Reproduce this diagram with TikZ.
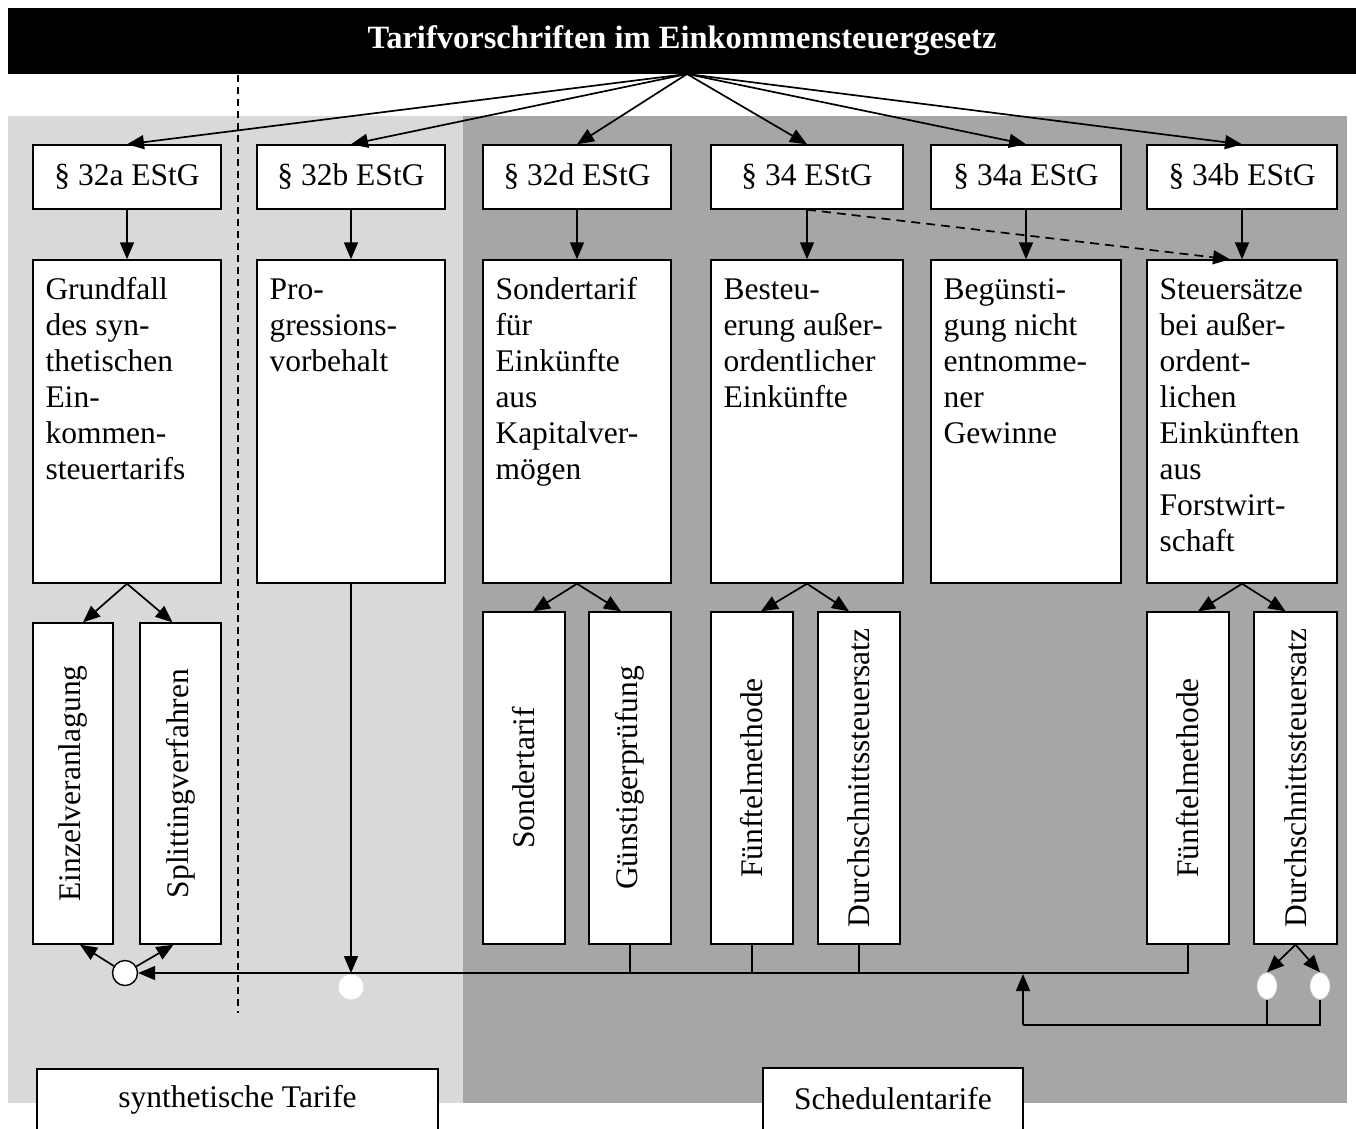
\documentclass[tikz,border=0pt]{standalone}
\usepackage{fontspec}
\setmainfont{Liberation Serif}
\usetikzlibrary{arrows.meta,calc,shapes.geometric}
\definecolor{lightbg}{HTML}{D9D9D9}
\definecolor{darkbg}{HTML}{A6A6A6}
\begin{document}
\begin{tikzpicture}[x=1pt,y=-1pt,
  box/.style={draw=black, fill=white, line width=1.4pt, inner sep=0pt,
    font=\fontsize{31.5}{36}\selectfont},
  rowone/.style={box, minimum height=64pt},
  rowtwo/.style={box, minimum height=323pt},
  txt/.style={anchor=north west, align=left, inner sep=0pt,
    font=\fontsize{31.5}{36}\selectfont},
  vtxt/.style={rotate=90, inner sep=0pt, font=\fontsize{31.5}{36}\selectfont},
  arr/.style={-{Triangle[length=17pt,width=14pt]}, line width=1.7pt},
  conn/.style={line width=1.7pt},
]
\clip (0,0) rectangle (1356,1128);
\useasboundingbox (0,0) rectangle (1356,1128);
\fill[white] (0,0) rectangle (1356,1128);

% backgrounds
\fill[lightbg] (8,116) rectangle (463,1103);
\fill[darkbg] (463,116) rectangle (1347,1103);

% title
\node[fill=black, text=white, minimum width=1348pt, minimum height=66pt, inner sep=0pt,
  font=\fontsize{32.5}{36}\selectfont\bfseries] (title) at (682,41)
  {Tarifvorschriften im Einkommensteuergesetz};
\coordinate (src) at (687,74);

% dashed separator
\draw[line width=1.4pt, dash pattern=on 7pt off 5pt] (238,75) -- (238,1013);

% row 1
\node[rowone, minimum width=188pt] (p32a) at (127,177) {§ 32a EStG};
\node[rowone, minimum width=188pt] (p32b) at (351,177) {§ 32b EStG};
\node[rowone, minimum width=188pt] (p32d) at (577,177) {§ 32d EStG};
\node[rowone, minimum width=192pt] (p34) at (807,177) {§ 34 EStG};
\node[rowone, minimum width=190pt] (p34a) at (1026,177) {§ 34a EStG};
\node[rowone, minimum width=190pt] (p34b) at (1242,177) {§ 34b EStG};

% row 2
\node[rowtwo, minimum width=188pt] (g32a) at (127,421.5) {};
\node[rowtwo, minimum width=188pt] (g32b) at (351,421.5) {};
\node[rowtwo, minimum width=188pt] (g32d) at (577,421.5) {};
\node[rowtwo, minimum width=192pt] (g34) at (807,421.5) {};
\node[rowtwo, minimum width=190pt] (g34a) at (1026,421.5) {};
\node[rowtwo, minimum width=190pt] (g34b) at (1242,421.5) {};

\node[txt] (t32a) at ($(g32a.north west)+(13,15)$)
  {\strut Grundfall\\des syn-\\thetischen\\Ein-\\kommen-\\steuertarifs};
\node[txt] (t32b) at ($(g32b.north west)+(13,15)$)
  {\strut Pro-\\gressions-\\vorbehalt};
\node[txt] (t32d) at ($(g32d.north west)+(13,15)$)
  {\strut Sondertarif\\für\\Einkünfte\\aus\\Kapitalver-\\mögen};
\node[txt] (t34) at ($(g34.north west)+(13,15)$)
  {\strut Besteu-\\erung außer-\\ordentlicher\\Einkünfte};
\node[txt] (t34a) at ($(g34a.north west)+(13,15)$)
  {\strut Begünsti-\\gung nicht\\entnomme-\\ner\\Gewinne};
\node[txt] (t34b) at ($(g34b.north west)+(13,15)$)
  {\strut Steuersätze\\bei außer-\\ordent-\\lichen\\Einkünften\\aus\\Forstwirt-\\schaft};

% row 3
\node[box, minimum width=80pt, minimum height=321pt] (einzel) at (73,783.5) {};
\node[vtxt] at (einzel.center) {Einzelveranlagung};
\node[box, minimum width=81pt, minimum height=321pt] (split) at (180.5,783.5) {};
\node[vtxt] at (split.center) {Splittingverfahren};
\node[box, minimum width=82pt, minimum height=332pt] (sonder) at (524,778) {};
\node[vtxt] at (sonder.center) {Sondertarif};
\node[box, minimum width=82pt, minimum height=332pt] (guenst) at (630,778) {};
\node[vtxt] at (guenst.center) {Günstigerprüfung};
\node[box, minimum width=82pt, minimum height=332pt] (fuenfA) at (752,778) {};
\node[vtxt] at (fuenfA.center) {Fünftelmethode};
\node[box, minimum width=82pt, minimum height=332pt] (durchA) at (859,778) {};
\node[vtxt] at (durchA.center) {Durchschnittssteuersatz};
\node[box, minimum width=82pt, minimum height=332pt] (fuenfB) at (1188,778) {};
\node[vtxt] at (fuenfB.center) {Fünftelmethode};
\node[box, minimum width=83pt, minimum height=332pt] (durchB) at (1295.5,778) {};
\node[vtxt] at (durchB.center) {Durchschnittssteuersatz};

% title arrows
\foreach \n in {p32a,p32b,p32d,p34,p34a,p34b}
  \draw[arr] (src) -- (\n.north);
% down arrows
\draw[arr] (p32a.south) -- (g32a.north);
\draw[arr] (p32b.south) -- (g32b.north);
\draw[arr] (p32d.south) -- (g32d.north);
\draw[arr] (p34.south) -- (g34.north);
\draw[arr] (p34a.south) -- (g34a.north);
\draw[arr] (p34b.south) -- (g34b.north);
\draw[arr, dash pattern=on 9pt off 6pt] (p34.south) -- ([xshift=-12pt]g34b.north);

% splits
\draw[arr] (g32a.south) -- ([xshift=10pt]einzel.north);
\draw[arr] (g32a.south) -- ([xshift=-8pt]split.north);
\draw[arr] (g32d.south) -- ([xshift=9pt]sonder.north);
\draw[arr] (g32d.south) -- ([xshift=-9pt]guenst.north);
\draw[arr] (g34.south) -- ([xshift=9pt]fuenfA.north);
\draw[arr] (g34.south) -- ([xshift=-10pt]durchA.north);
\draw[arr] (g34b.south) -- ([xshift=10pt]fuenfB.north);
\draw[arr] (g34b.south) -- ([xshift=-10pt]durchB.north);

% bottom circles
\node[circle, fill=white, minimum size=25pt, inner sep=0pt] (c2) at (351,987) {};
\node[circle, draw=black, fill=white, line width=1.4pt, minimum size=25pt, inner sep=0pt] (c1) at (125,973) {};
\node[ellipse, fill=white, draw=white!75!black, line width=0.6pt, minimum width=20pt, minimum height=27pt, inner sep=0pt] (e1) at (1267,986) {};
\node[ellipse, fill=white, draw=white!75!black, line width=0.6pt, minimum width=20pt, minimum height=27pt, inner sep=0pt] (e2) at (1320,986) {};

% bottom bus
\draw[arr] (fuenfB.south) |- (c1.east);
\draw[conn] (guenst.south) -- (guenst.south |- c1);
\draw[conn] (fuenfA.south) -- (fuenfA.south |- c1);
\draw[conn] (durchA.south) -- (durchA.south |- c1);
\draw[arr] (g32b.south) -- (g32b.south |- c1);
\draw[arr] (c1) -- ([xshift=7pt]einzel.south);
\draw[arr] (c1) -- ([xshift=-7pt]split.south);

\draw[arr] (durchB.south) -- (e1.north);
\draw[arr] (durchB.south) -- (e2.north);
\coordinate (b2) at (1023,1025);
\draw[conn] (e2.south) |- (b2);
\draw[conn] (e1.south) -- (e1.south |- b2);
\draw[arr] (b2) -- ($(b2 |- c1)+(0,1)$);

% bottom labels
\node[box, minimum width=401pt, minimum height=62pt] (synth) at (237.5,1100) {synthetische Tarife};
\node[box, minimum width=260pt, minimum height=62pt] (sched) at (893,1099) {Schedulentarife};
\end{tikzpicture}
\end{document}
